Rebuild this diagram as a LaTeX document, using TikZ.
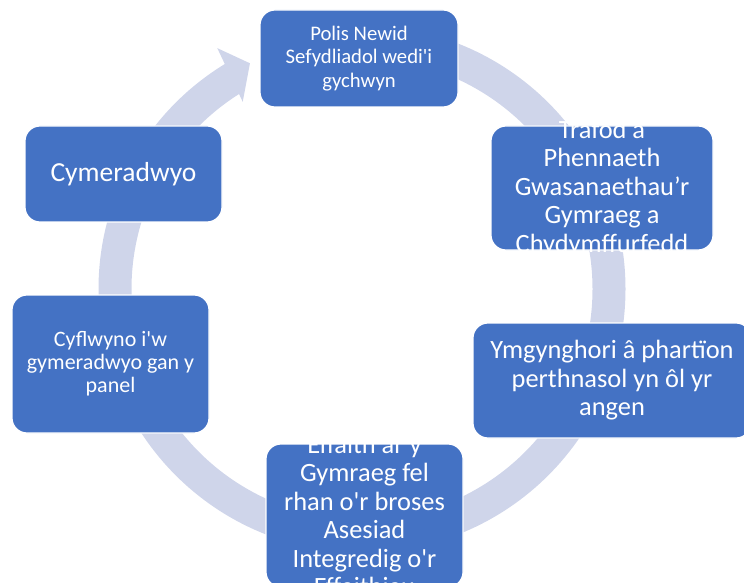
\documentclass[tikz,border=0pt]{standalone}
\usepackage{fontspec}
\setmainfont{Carlito}[Ligatures=TeXOff]
\definecolor{stageblue}{HTML}{4472C4}
\definecolor{ringblue}{HTML}{CFD5EA}
\begin{document}
\begin{tikzpicture}[
		x=1pt, y=1pt,
		stage/.style={rectangle, rounded corners=15, fill=stageblue, draw=white, line width=1.2, inner sep=0},
		words/.style={text=white, align=center, inner sep=0, font=\fontsize{26.4}{28.5}\selectfont},
		ring/.style={draw=ringblue, line width=33},
	]
	\useasboundingbox (0,0) rectangle (744,582);
	\begin{scope}[shift={(362,293)}]
		\draw[ring] (90:247) arc[start angle=90, end angle=-239, radius=247];
		\fill[ringblue] (121:281) -- (116.4:252) -- (122.5:222) -- cycle;
	\end{scope}
	\node[stage, minimum width=198, minimum height=97] (polis) at (359,523.5) {};
	\node[words, font=\fontsize{20.7}{23.5}\selectfont] (polis-text) at (polis) {Polis Newid\\Sefydliadol wedi'i\\gychwyn};
	\node[stage, minimum width=222, minimum height=124] (trafod) at (602,394) {};
	\node[words] (trafod-text) at (trafod) {Trafod a\\Phennaeth\\Gwasanaethau’r\\Gymraeg a\\Chydymffurfedd};
	\node[stage, minimum width=278, minimum height=115] (ymgynghori) at (612,201.5) {};
	\node[words] (ymgynghori-text) at (ymgynghori) {Ymgynghori â phartïon\\perthnasol yn ôl yr\\angen};
	\node[stage, minimum width=197, minimum height=143] (effaith) at (364.5,66.5) {};
	\node[words] (effaith-text) at (effaith) {Effaith ar y\\Gymraeg fel\\rhan o'r broses\\Asesiad\\Integredig o'r\\Effeithiau};
	\node[stage, minimum width=197, minimum height=138] (cyflwyno) at (110.5,218) {};
	\node[words, font=\fontsize{22}{23}\selectfont] (cyflwyno-text) at (cyflwyno) {Cyflwyno i'w\\gymeradwyo gan y\\panel};
	\node[stage, minimum width=197, minimum height=96] (cymeradwyo) at (123.5,408) {};
	\node[words, font=\fontsize{27.5}{29}\selectfont] (cymeradwyo-text) at (cymeradwyo) {Cymeradwyo};
\end{tikzpicture}
\end{document}
